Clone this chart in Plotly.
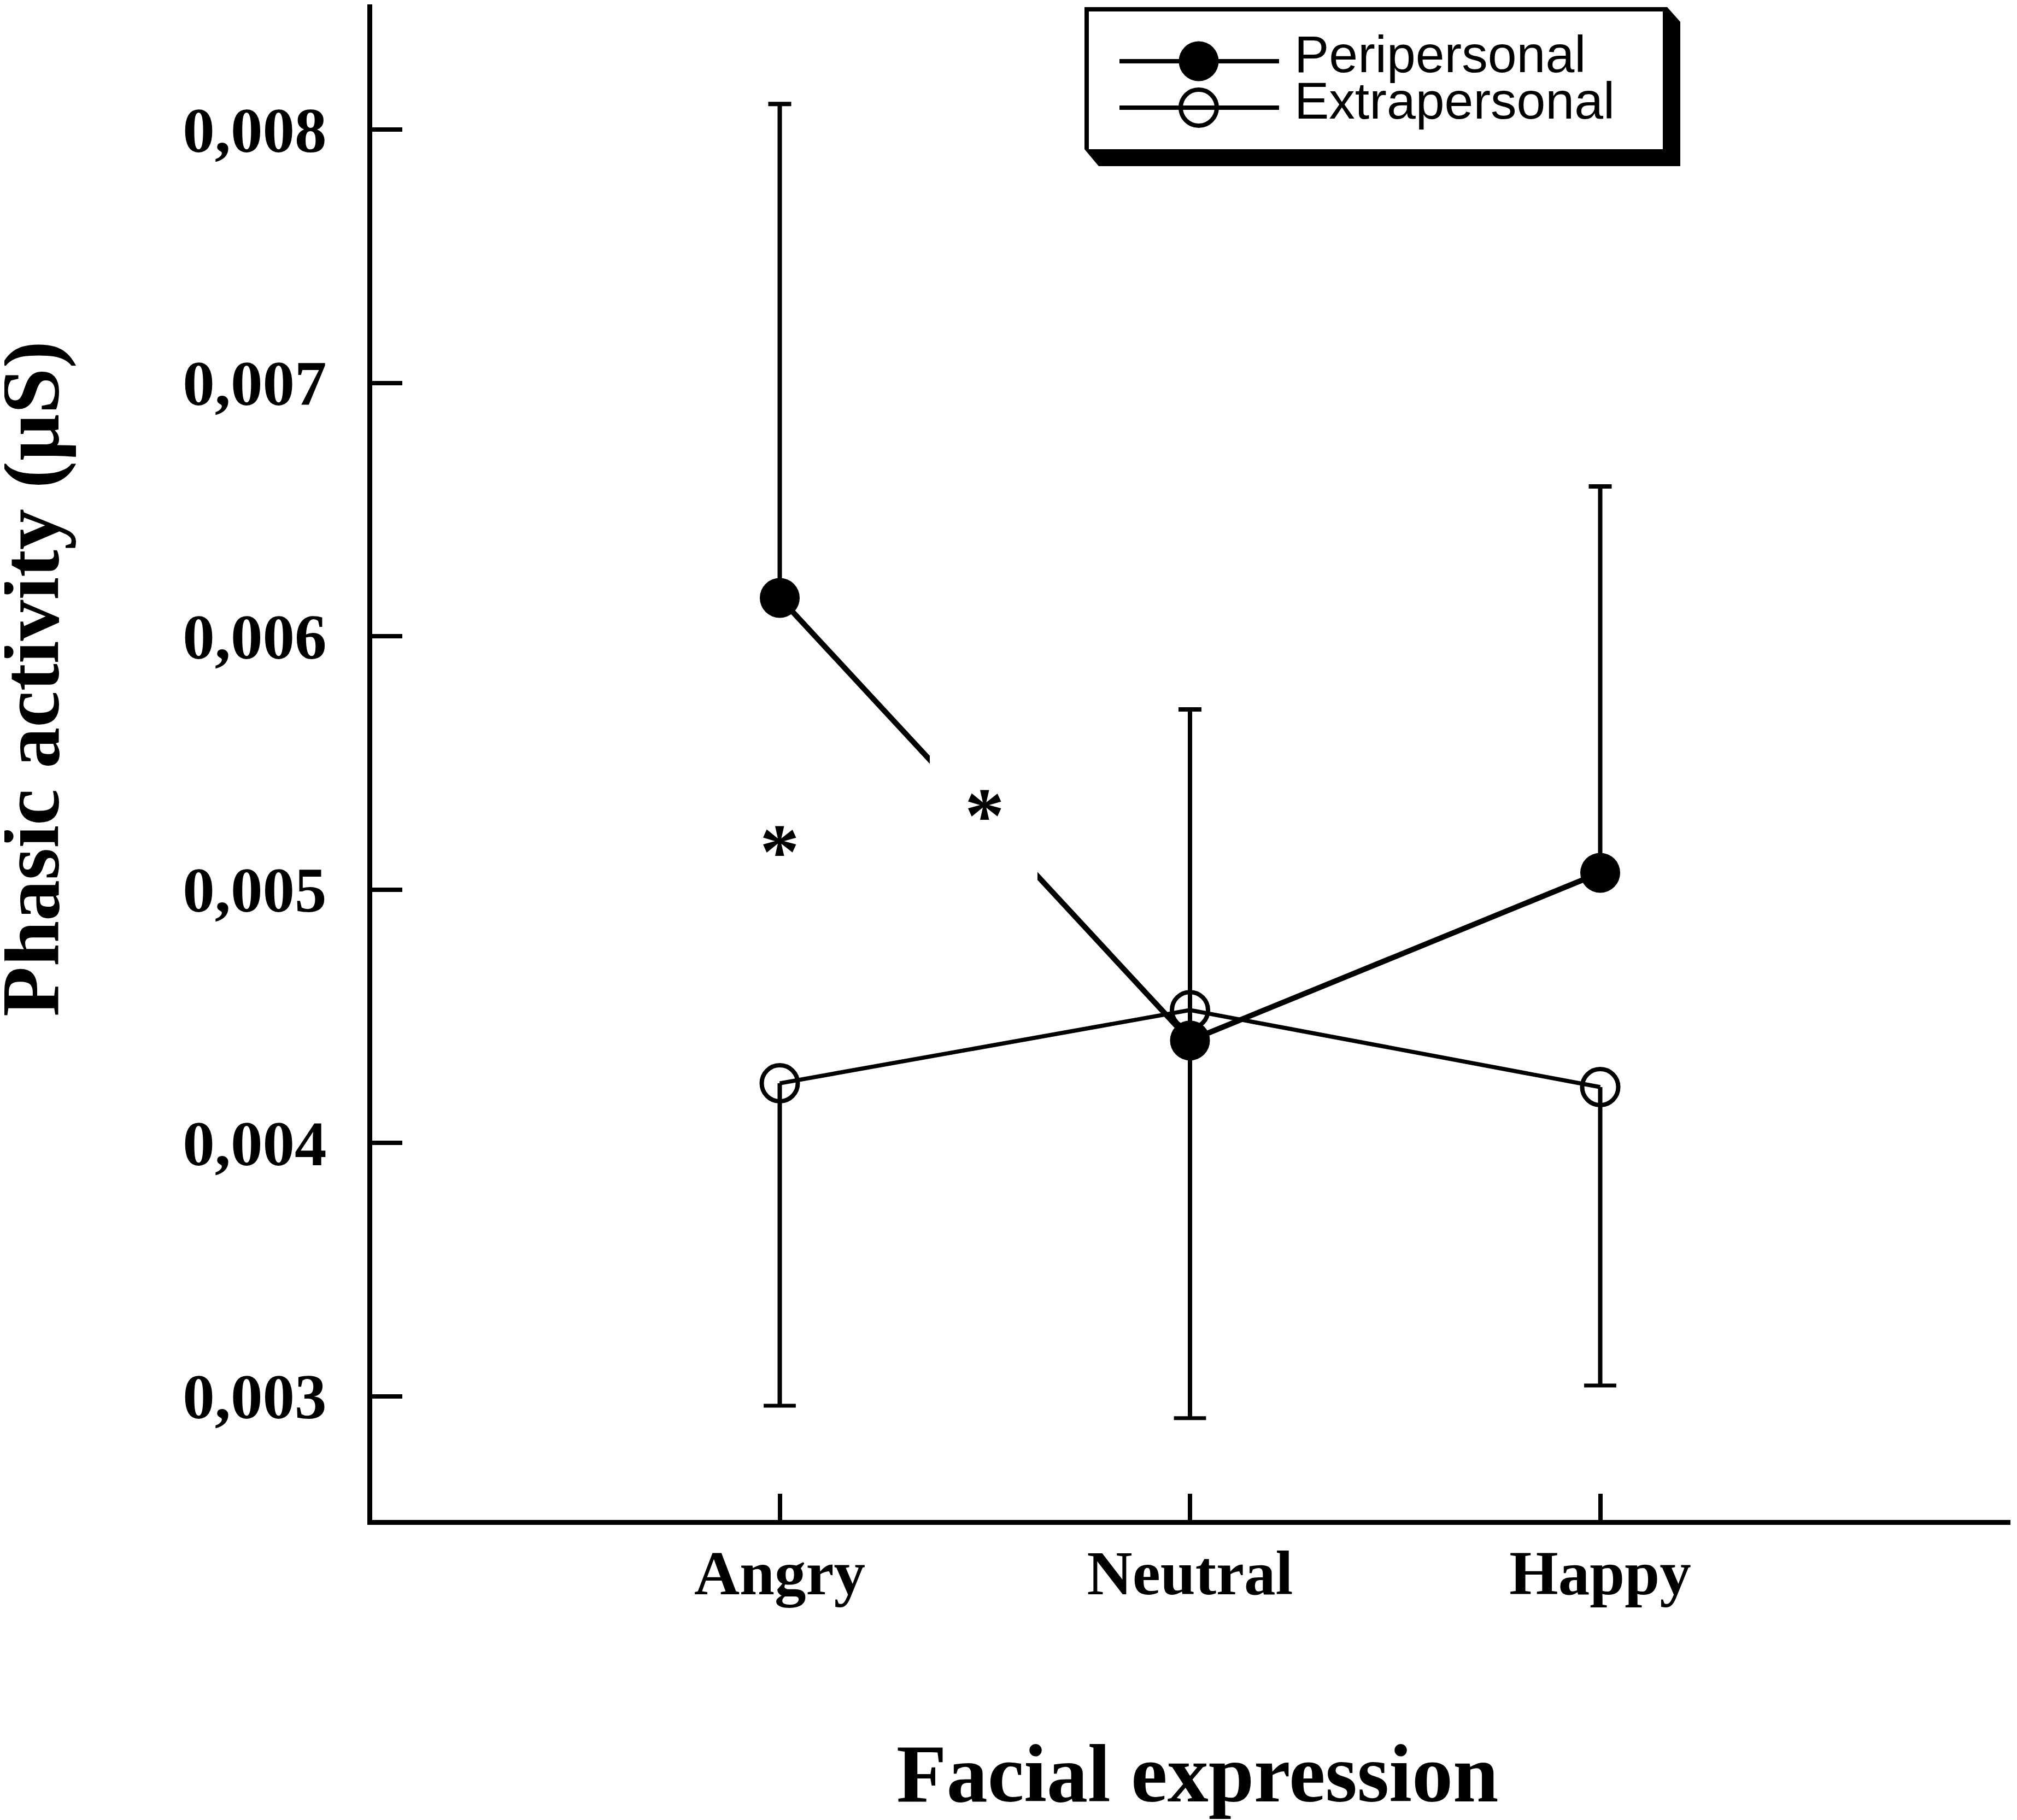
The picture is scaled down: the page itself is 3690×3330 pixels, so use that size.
import plotly.graph_objects as go

# ---------------- data ----------------
categories = ["Angry", "Neutral", "Happy"]
cat_x = [1, 2, 3]
peri_mean = [0.006151, 0.004404, 0.005066]
peri_err_plus = [0.001950, 0.001307, 0.001525]
extra_mean = [0.004235, 0.004524, 0.004220]
extra_err_minus = [0.001273, 0.001611, 0.001178]
ytick_vals = [0.003, 0.004, 0.005, 0.006, 0.007, 0.008]
ytick_text = ["0,003", "0,004", "0,005", "0,006", "0,007", "0,008"]
series_names = ["Peripersonal", "Extrapersonal"]
asterisks = [(1.0, 0.005193), (1.5, 0.005336)]

# ---------------- layout geometry (window pixel coords) ----------------
W, H = 3690, 3330
OFF = 8                      # default page body margin
PL, PR, PT, PB = 681, 3678, 8, 2781   # plot area edges in window pixels
L, R, T, B = PL - OFF, W - (PR - OFF), PT - OFF, H - (PB - OFF)
PW, PH = PR - PL, PB - PT


def px(p):
    return (p - PL) / PW


def py(p):
    return (PB - p) / PH


def x_of(p):                 # window px -> x data (0 at 676, 4 at 3678)
    return (p - 676) / 750.5


def y_of(p):                 # window px -> y data (0.003 at 2554.5, 463.5 px per 0.001)
    return 0.003 + (2554.5 - p) / 463.5 * 0.001


SERIF = "Liberation Serif"
SANS = "Liberation Sans"

fig = go.Figure()

# Extrapersonal error bars (downward only) built from the data arrays
ex, ey, cx, cy = [], [], [], []
for x, m, e in zip(cat_x, extra_mean, extra_err_minus):
    ex += [x, x, None]
    ey += [m, m - e, None]
    cx.append(x)
    cy.append(m - e)
fig.add_trace(go.Scatter(x=ex, y=ey, mode="lines", line=dict(color="black", width=8),
                         showlegend=False, hoverinfo="skip"))
fig.add_trace(go.Scatter(x=cx, y=cy, mode="markers",
                         marker=dict(symbol="line-ew", size=42, color="black",
                                     line=dict(color="black", width=7)),
                         showlegend=False, hoverinfo="skip"))

# Extrapersonal
fig.add_trace(go.Scatter(
    x=cat_x, y=extra_mean, mode="lines+markers", name=series_names[1],
    line=dict(color="black", width=7.5),
    marker=dict(symbol="circle-open", size=66, color="black",
                line=dict(color="black", width=8)),
    showlegend=False))

# Peripersonal (upward error bars)
fig.add_trace(go.Scatter(
    x=cat_x, y=peri_mean, mode="lines+markers", name=series_names[0],
    line=dict(color="black", width=10),
    marker=dict(symbol="circle", size=73, color="black", line=dict(width=0)),
    error_y=dict(type="data", symmetric=False, array=peri_err_plus,
                 arrayminus=[0] * len(peri_err_plus), color="black",
                 thickness=8, width=21),
    showlegend=False))

shapes = []
# white box interrupting the line behind the asterisk
shapes.append(dict(type="rect", xref="x", yref="y", x0=x_of(1701), x1=x_of(1898),
                   y0=y_of(1720), y1=y_of(1300), fillcolor="white", line=dict(width=0),
                   layer="above"))

# legend box with drop shadow
pts = [(1984, 13), (3050, 13), (3074, 40), (3074, 304), (2010, 304), (1984, 273)]
path = "M " + " L ".join(f"{px(a):.5f},{py(b):.5f}" for a, b in pts) + " Z"
shapes.append(dict(type="path", path=path, xref="paper", yref="paper",
                   fillcolor="black", line=dict(width=0), layer="above"))
shapes.append(dict(type="rect", xref="paper", yref="paper", x0=px(1992), x1=px(3042),
                   y0=py(273), y1=py(21), fillcolor="white", line=dict(width=0),
                   layer="above"))
for yy in (112, 197):
    shapes.append(dict(type="line", xref="paper", yref="paper", x0=px(2048), x1=px(2340),
                       y0=py(yy), y1=py(yy), line=dict(color="black", width=8),
                       layer="above"))
shapes.append(dict(type="circle", xref="paper", yref="paper",
                   x0=px(2193 - 36.5), x1=px(2193 + 36.5),
                   y0=py(112 + 36.5), y1=py(112 - 36.5),
                   fillcolor="black", line=dict(width=0), layer="above"))
shapes.append(dict(type="circle", xref="paper", yref="paper",
                   x0=px(2193 - 33), x1=px(2193 + 33),
                   y0=py(197 + 33), y1=py(197 - 33),
                   fillcolor="rgba(0,0,0,0)", line=dict(color="black", width=8),
                   layer="above"))

annotations = []
for name, yc in zip(series_names, (99, 184)):
    annotations.append(dict(text=name, xref="paper", yref="paper", x=px(2366), y=py(yc),
                            xanchor="left", yanchor="middle", showarrow=False,
                            font=dict(family=SANS, size=95, color="black")))
for ax_, ay_ in asterisks:
    annotations.append(dict(text="*", xref="x", yref="y", x=ax_, y=ay_, yshift=-20,
                            xanchor="center", yanchor="middle", showarrow=False,
                            font=dict(family=SERIF, size=145, color="black", weight="bold")))
# axis titles
annotations.append(dict(text="Facial expression", xref="paper", yref="paper",
                        x=px(2190), y=py(3245), xanchor="center", yanchor="middle",
                        showarrow=False,
                        font=dict(family=SERIF, size=150, color="black", weight="bold")))
annotations.append(dict(text="Phasic activity (µS)", xref="paper", yref="paper",
                        x=px(56), y=py(1242), xanchor="center", yanchor="middle",
                        textangle=-90, showarrow=False,
                        font=dict(family=SERIF, size=150, color="black", weight="bold")))

fig.update_layout(
    width=W, height=H,
    margin=dict(l=L, r=R, t=T, b=B, pad=0),
    paper_bgcolor="white", plot_bgcolor="white",
    showlegend=False,
    shapes=shapes, annotations=annotations,
    xaxis=dict(range=[x_of(PL), x_of(PR)], tickvals=cat_x + [4], ticktext=categories + [""],
               showgrid=False, zeroline=False, showline=True, linecolor="black",
               linewidth=9, ticks="inside", ticklen=48, tickwidth=8, tickcolor="black",
               tickfont=dict(family=SERIF, size=115, color="black", weight="bold"),
               ticklabelstandoff=-11),
    yaxis=dict(range=[y_of(PB), y_of(PT)], tickvals=ytick_vals, ticktext=ytick_text,
               showgrid=False, zeroline=False, showline=True, linecolor="black",
               linewidth=9, ticks="inside", ticklen=55, tickwidth=8, tickcolor="black",
               tickfont=dict(family=SERIF, size=117, color="black", weight="bold"),
               ticklabelstandoff=51),
)

fig.write_html("out.html")
